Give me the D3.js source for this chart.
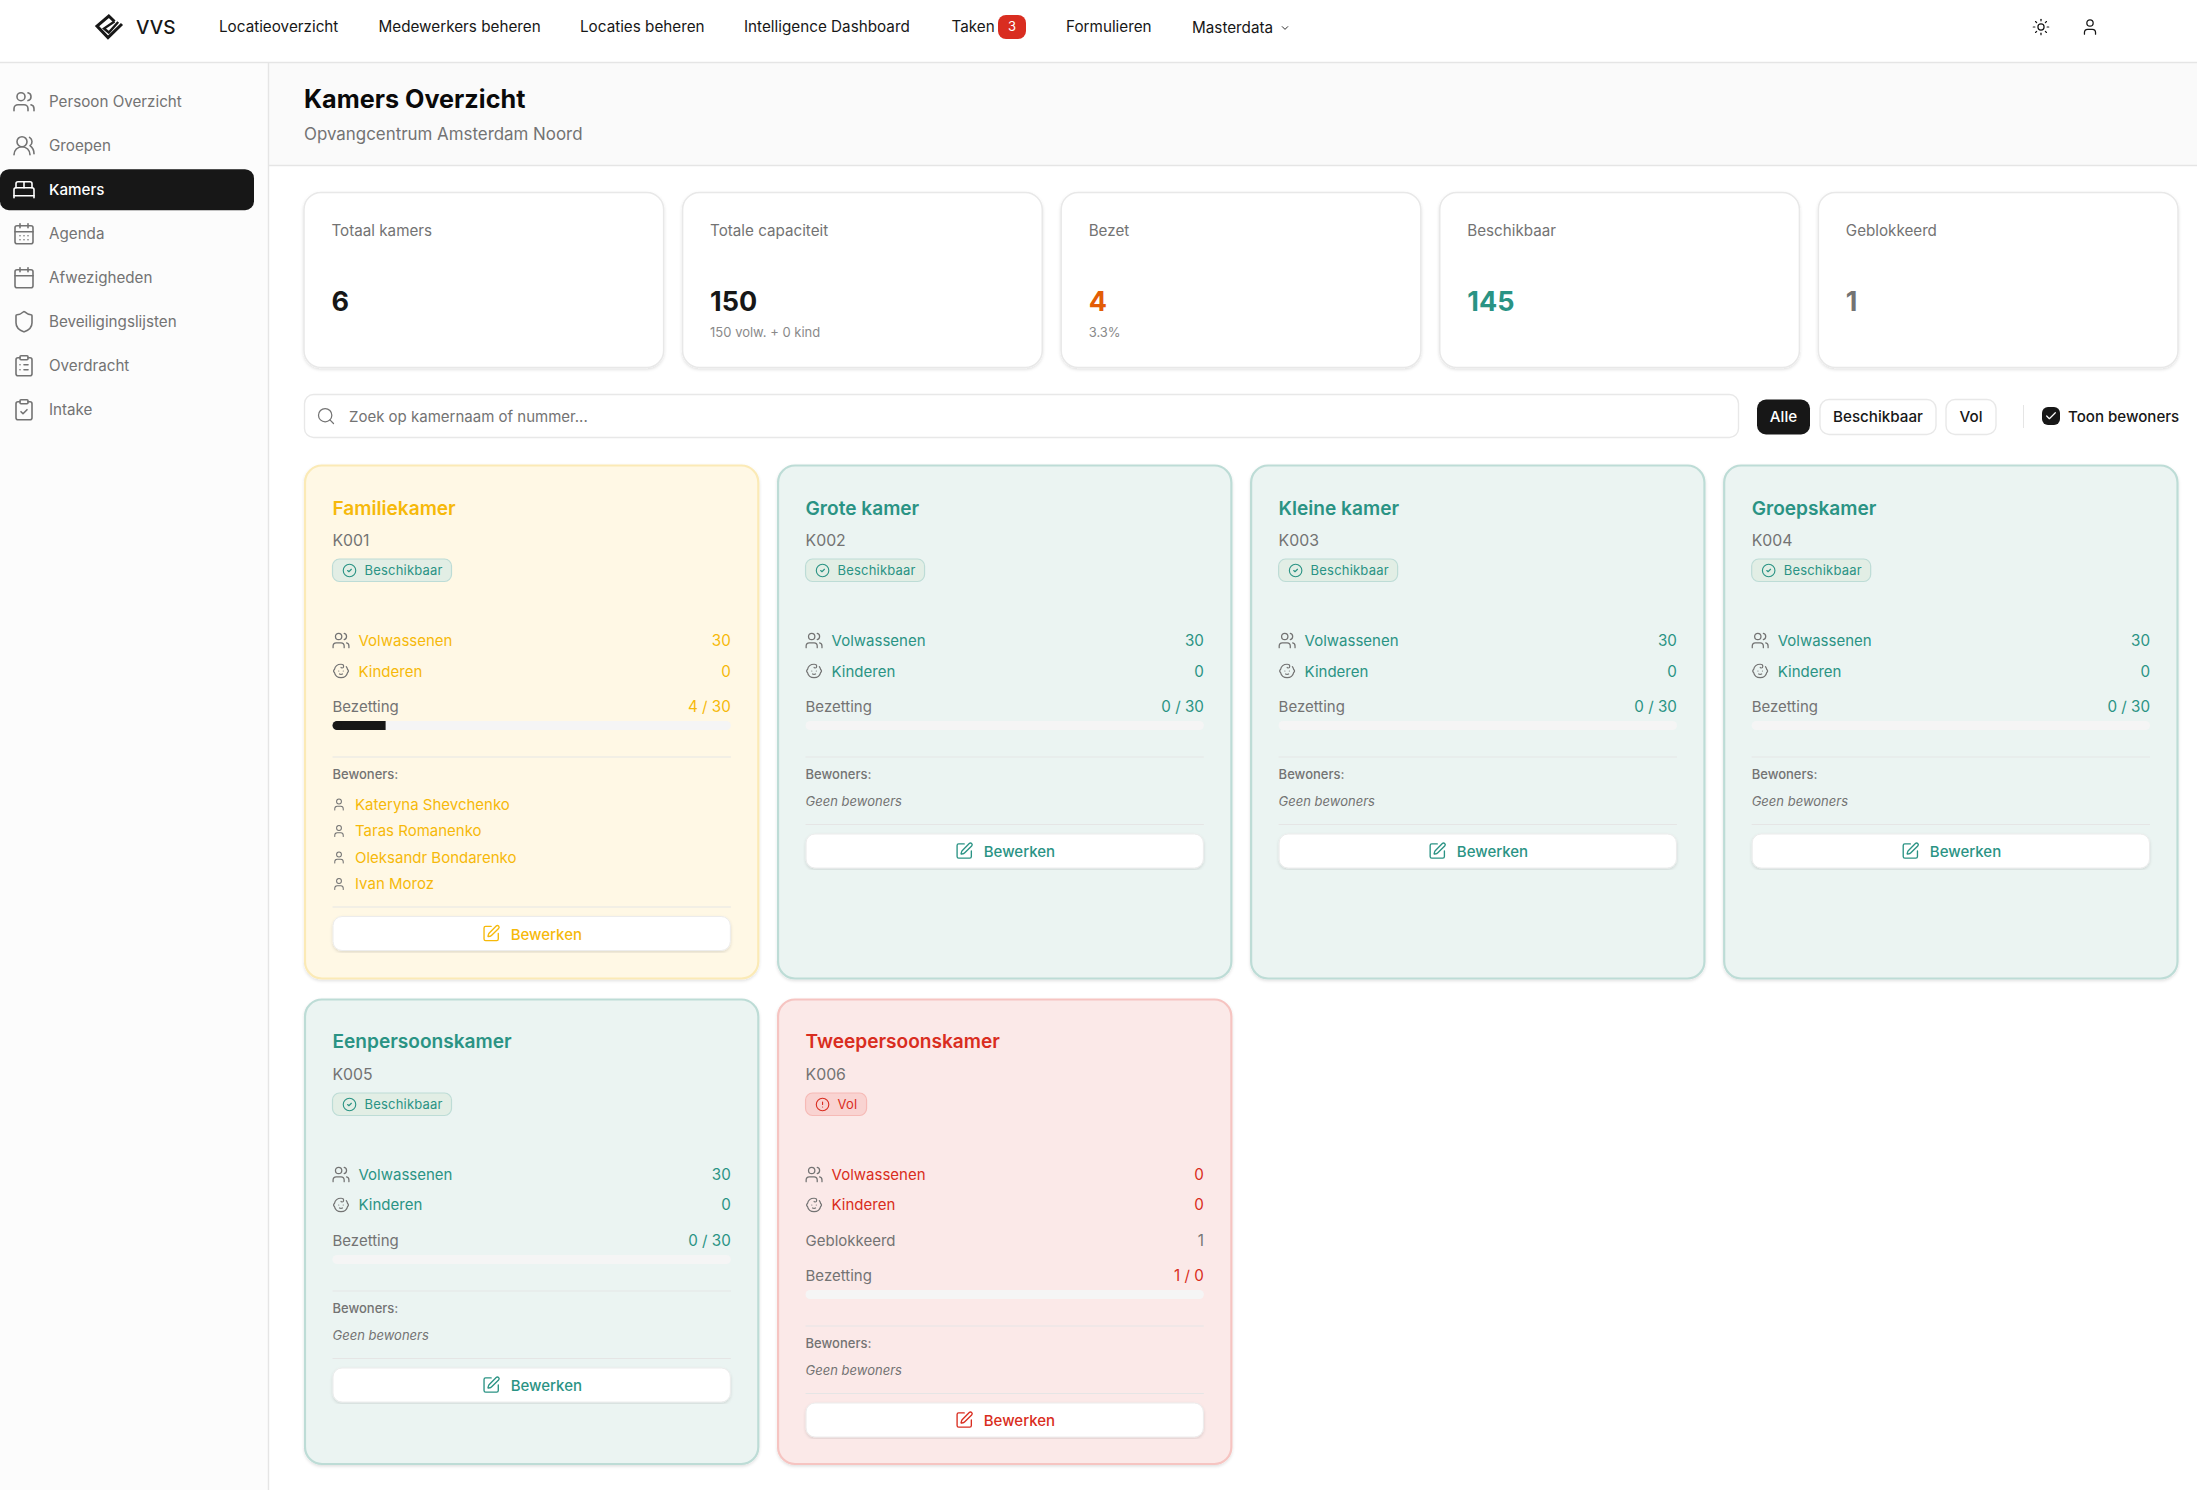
<!DOCTYPE html>
<html>
<head>
<meta charset="utf-8">
<title>Kamers Overzicht</title>
<script src="https://cdn.jsdelivr.net/npm/d3@7"></script>
<style>
html, body { margin: 0; padding: 0; background: #fff; overflow: hidden; }
text { font-family: Inter, "Noto Sans", sans-serif; }
</style>
</head>
<body>
<svg id="page" width="2197" height="1490"></svg>
<script>
// labels
var navLabels = ['Locatieoverzicht', 'Medewerkers beheren', 'Locaties beheren', 'Intelligence Dashboard', 'Taken', 'Formulieren', 'Masterdata'];
var taskCount = 3;
var sideLabels = ['Persoon Overzicht', 'Groepen', 'Kamers', 'Agenda', 'Afwezigheden', 'Beveiligingslijsten', 'Overdracht', 'Intake'];
var activeSide = 'Kamers';

// stat cards
var statLabels = ['Totaal kamers', 'Totale capaciteit', 'Bezet', 'Beschikbaar', 'Geblokkeerd'];
var statValues = [6, 150, 4, 145, 1];
var statNotes = ['', '150 volw. + 0 kind', '3.3%', '', ''];

// filters
var filterLabels = ['Alle', 'Beschikbaar', 'Vol'];

// rooms
var roomNames = ['Familiekamer', 'Grote kamer', 'Kleine kamer', 'Groepskamer', 'Eenpersoonskamer', 'Tweepersoonskamer'];
var roomCodes = ['K001', 'K002', 'K003', 'K004', 'K005', 'K006'];
var roomStatus = ['Beschikbaar', 'Beschikbaar', 'Beschikbaar', 'Beschikbaar', 'Beschikbaar', 'Vol'];
var roomAdults = [30, 30, 30, 30, 30, 0];
var roomChildren = [0, 0, 0, 0, 0, 0];
var roomBlocked = [0, 0, 0, 0, 0, 1];
var roomOccupied = [4, 0, 0, 0, 0, 1];
var roomCapacity = [30, 30, 30, 30, 30, 0];
var roomResidents = [['Kateryna Shevchenko', 'Taras Romanenko', 'Oleksandr Bondarenko', 'Ivan Moroz'], [], [], [], [], []];

var tones = {
  busy: { fill: '#fff8e5', border: '#fbeab6', ink: '#f6b90a' },
  free: { fill: '#ebf4f2', border: '#bddcd6', ink: '#2a9384' },
  full: { fill: '#fbe9e8', border: '#f6c4c1', ink: '#d92d20' }
};
var grey = '#737373', dark = '#171717', line = '#e5e5e5';

// icons, 24 unit grid
var icons = {
  users: ['M16 21v-2a4 4 0 0 0-4-4H6a4 4 0 0 0-4 4v2', 'M13 7a4 4 0 1 1-8 0a4 4 0 1 1 8 0', 'M22 21v-2a4 4 0 0 0-3-3.87', 'M16 3.13a4 4 0 0 1 0 7.75'],
  round: ['M18 21a8 8 0 0 0-16 0', 'M15 8a5 5 0 1 1-10 0a5 5 0 1 1 10 0', 'M22 20c0-3.37-2-6.5-4-8a5 5 0 0 0-.45-8.3'],
  bed: ['M2 20v-8a2 2 0 0 1 2-2h16a2 2 0 0 1 2 2v8', 'M4 10V6a2 2 0 0 1 2-2h12a2 2 0 0 1 2 2v4', 'M12 4v6', 'M2 18h20'],
  agenda: ['M8 2v4', 'M16 2v4', 'M5 4h14a2 2 0 0 1 2 2v14a2 2 0 0 1-2 2H5a2 2 0 0 1-2-2V6a2 2 0 0 1 2-2z', 'M3 10h18', 'M8 14h.01', 'M12 14h.01', 'M16 14h.01', 'M8 18h.01', 'M12 18h.01', 'M16 18h.01'],
  calendar: ['M8 2v4', 'M16 2v4', 'M5 4h14a2 2 0 0 1 2 2v14a2 2 0 0 1-2 2H5a2 2 0 0 1-2-2V6a2 2 0 0 1 2-2z', 'M3 10h18'],
  shield: ['M20 13c0 5-3.5 7.5-7.66 8.95a1 1 0 0 1-.67-.01C7.5 20.5 4 18 4 13V6a1 1 0 0 1 1-1c2 0 4.5-1.2 6.24-2.72a1.17 1.17 0 0 1 1.52 0C14.51 3.81 17 5 19 5a1 1 0 0 1 1 1z'],
  list: ['M9 2h6a1 1 0 0 1 1 1v2a1 1 0 0 1-1 1H9a1 1 0 0 1-1-1V3a1 1 0 0 1 1-1z', 'M16 4h2a2 2 0 0 1 2 2v14a2 2 0 0 1-2 2H6a2 2 0 0 1-2-2V6a2 2 0 0 1 2-2h2', 'M12 11h4', 'M12 16h4', 'M8 11h.01', 'M8 16h.01'],
  check: ['M9 2h6a1 1 0 0 1 1 1v2a1 1 0 0 1-1 1H9a1 1 0 0 1-1-1V3a1 1 0 0 1 1-1z', 'M16 4h2a2 2 0 0 1 2 2v14a2 2 0 0 1-2 2H6a2 2 0 0 1-2-2V6a2 2 0 0 1 2-2h2', 'm9 14 2 2 4-4'],
  baby: ['M9 12h.01', 'M15 12h.01', 'M10 16c.5.3 1.2.5 2 .5s1.5-.2 2-.5', 'M19 6.3a9 9 0 0 1 1.8 3.9 2 2 0 0 1 0 3.6 9 9 0 0 1-17.6 0 2 2 0 0 1 0-3.6A9 9 0 0 1 12 3c2 0 3.5 1.1 3.5 2.5s-.9 2.5-2 2.5c-.8 0-1.5-.4-1.5-1'],
  user: ['M19 21v-2a4 4 0 0 0-4-4H9a4 4 0 0 0-4 4v2', 'M16 7a4 4 0 1 1-8 0a4 4 0 1 1 8 0'],
  sun: ['M16 12a4 4 0 1 1-8 0a4 4 0 1 1 8 0', 'M12 2v2', 'M12 20v2', 'm4.93 4.93 1.41 1.41', 'm17.66 17.66 1.41 1.41', 'M2 12h2', 'M20 12h2', 'm6.34 17.66-1.41 1.41', 'm19.07 4.93-1.41 1.41'],
  pen: ['M12 3H5a2 2 0 0 0-2 2v14a2 2 0 0 0 2 2h14a2 2 0 0 0 2-2v-7', 'M18.375 2.625a1 1 0 0 1 3 3l-9.013 9.014a2 2 0 0 1-.853.505l-2.873.84a.5.5 0 0 1-.62-.62l.84-2.873a2 2 0 0 1 .506-.852z'],
  search: ['M19 11a8 8 0 1 1-16 0a8 8 0 1 1 16 0', 'm21 21-4.3-4.3'],
  ok: ['M22 12a10 10 0 1 1-20 0a10 10 0 1 1 20 0', 'm9 12 2 2 4-4'],
  alert: ['M22 12a10 10 0 1 1-20 0a10 10 0 1 1 20 0', 'M12 8v4', 'M12 16h.01'],
  chevron: ['m6 9 6 6 6-6'],
  tick: ['M20 6 9 17l-5-5']
};
var sideIcons = ['users', 'round', 'bed', 'agenda', 'calendar', 'shield', 'list', 'check'];

var svg = d3.select('#page');

function label(g, x, y, str, size, color, weight, anchor, style) {
  return g.append('text').attr('x', x).attr('y', y).attr('dy', '.36em')
    .attr('font-size', size).attr('fill', color).attr('font-weight', weight || 400)
    .attr('text-anchor', anchor || 'start').attr('font-style', style || 'normal').text(str);
}
function icon(g, name, cx, cy, size, color, sw) {
  var k = size / 24;
  var ig = g.append('g').attr('transform', 'translate(' + (cx - size / 2) + ',' + (cy - size / 2) + ') scale(' + k + ')');
  ig.selectAll('path').data(icons[name]).join('path').attr('d', function (d) { return d; })
    .attr('fill', 'none').attr('stroke', color).attr('stroke-width', sw || 2)
    .attr('stroke-linecap', 'round').attr('stroke-linejoin', 'round');
}
function box(g, x, y, w, h, r, fill, stroke, sw) {
  return g.append('rect').attr('x', x).attr('y', y).attr('width', w).attr('height', h).attr('rx', r)
    .attr('fill', fill).attr('stroke', stroke || 'none').attr('stroke-width', sw || 0);
}

var defs = svg.append('defs');
defs.append('filter').attr('id', 'lift').attr('x', '-5%').attr('y', '-5%').attr('width', '110%').attr('height', '110%')
  .append('feDropShadow').attr('dx', 0).attr('dy', 1.5).attr('stdDeviation', 1.5).attr('flood-color', '#000').attr('flood-opacity', 0.12);

// backgrounds
box(svg, 0, 0, 2197, 1490, 0, '#fff');
box(svg, 0, 62, 268, 1428, 0, '#fcfcfc');
box(svg, 268, 62, 1929, 103, 0, '#fafafa');
svg.append('line').attr('x1', 0).attr('x2', 2197).attr('y1', 62.5).attr('y2', 62.5).attr('stroke', line).attr('stroke-width', 1.4);
svg.append('line').attr('x1', 268).attr('x2', 2197).attr('y1', 165.5).attr('y2', 165.5).attr('stroke', line).attr('stroke-width', 1.4);
svg.append('line').attr('x1', 268.5).attr('x2', 268.5).attr('y1', 62).attr('y2', 1490).attr('stroke', line).attr('stroke-width', 1.4);

// top bar
var topBar = svg.append('g');
topBar.append('path').attr('d', 'M114.5 21.5 L108.8 16 L97 26 L108 37.5 L122 24').attr('fill', 'none').attr('stroke', dark).attr('stroke-width', 3);
topBar.append('path').attr('d', 'M114.5 21.5 L104 28.5 L108.8 32.5 L118.2 22').attr('fill', 'none').attr('stroke', dark).attr('stroke-width', 2.4);
label(topBar, 136, 27, 'VVS', 19, dark, 500);
var navX = [219, 378.5, 580, 744, 951.5, 1066, 1192];
navLabels.forEach(function (d, i) {
  label(topBar, navX[i], i === 6 ? 28 : 27, d, 15.25, dark, 400);
});
box(topBar, 998, 15, 28, 24, 8, '#d92d20');
label(topBar, 1012, 26.5, taskCount, 13, '#fff', 400, 'middle');
icon(topBar, 'chevron', 1285, 28, 11, dark, 2);
icon(topBar, 'sun', 2041, 27, 18.5, dark, 1.6);
icon(topBar, 'user', 2090, 27, 19, dark, 1.6);

// side menu
var sideY = d3.scalePoint().domain(sideLabels).range([101.7, 409.7]);
var side = svg.append('g');
box(side, 0, sideY(activeSide) - 20.5, 254, 41, 9, dark);
sideLabels.forEach(function (d, i) {
  var c = d === activeSide ? '#fff' : grey;
  icon(side, sideIcons[i], 24, sideY(d), 24, c, 1.6);
  label(side, 49, sideY(d), d, 15.2, c, d === activeSide ? 500 : 400);
});

// page title
label(svg, 304, 99, 'Kamers Overzicht', 25.2, '#0a0a0a', 700);
label(svg, 304, 134, 'Opvangcentrum Amsterdam Noord', 16.9, grey, 400);

// stat cards
var statX = d3.scaleBand().domain(d3.range(statLabels.length)).range([304, 2178]).paddingInner(0.05);
var statColors = [dark, dark, '#e35d06', '#2a9384', grey];
var stats = svg.append('g');
statLabels.forEach(function (d, i) {
  var x = statX(i), g = stats.append('g');
  box(g, x, 192.5, statX.bandwidth(), 175, 17, '#fff', '#e8e8e8', 1.5).attr('filter', 'url(#lift)');
  label(g, x + 27.5, 231, d, 15.2, grey, 400);
  label(g, x + 27.5, 301, statValues[i], 27, statColors[i], 700);
  if (statNotes[i]) label(g, x + 27.5, 332, statNotes[i], 13, '#8a8a8a', 400);
});

// search and filters
box(svg, 304.5, 394.5, 1434, 43, 9, '#fff', '#e8e8e8', 1.4);
icon(svg, 'search', 326, 416, 20, grey, 1.5);
label(svg, 349, 416.5, 'Zoek op kamernaam of nummer...', 15, grey, 400);
var filterX = [1757, 1820, 1946], filterW = [53, 116, 50];
filterLabels.forEach(function (d, i) {
  var on = i === 0;
  box(svg, filterX[i], 399.5, filterW[i], 35, 9, on ? dark : '#fff', on ? 'none' : '#e8e8e8', on ? 0 : 1.4);
  label(svg, filterX[i] + filterW[i] / 2, 416.5, d, 15.2, on ? '#fff' : dark, 450, 'middle');
});
svg.append('line').attr('x1', 2023.5).attr('x2', 2023.5).attr('y1', 405).attr('y2', 428).attr('stroke', line);
box(svg, 2042, 407, 18, 18, 6, dark);
icon(svg, 'tick', 2051, 416, 13, '#fff', 2.2);
label(svg, 2068, 416.5, 'Toon bewoners', 15.1, dark, 450);

// room cards
var roomX = d3.scaleBand().domain([0, 1, 2, 3]).range([304, 2178.5]).paddingInner(0.0375);
var rowTop = [464.5, 998.5], rowH = [515, 466.5];

function toneOf(i) {
  if (roomStatus[i] === 'Vol') return tones.full;
  return roomOccupied[i] > 0 ? tones.busy : tones.free;
}

roomNames.forEach(function (name, i) {
  var row = Math.floor(i / 4), x = roomX(i % 4), w = roomX.bandwidth(), t = toneOf(i);
  var g = svg.append('g').attr('transform', 'translate(' + x + ',' + rowTop[row] + ')');
  var inL = 28.5, inR = w - 28.5;
  box(g, 1, 1, w - 2, rowH[row] - 2, 17, t.fill, t.border, 2.2).attr('filter', 'url(#lift)');
  label(g, inL, 43.5 - row * 0.5, name, 19.1, t.ink, 600);
  label(g, inL, 75.5, roomCodes[i], 15.8, grey, 400);

  // status badge
  var isFull = roomStatus[i] === 'Vol', badgeInk = isFull ? tones.full.ink : tones.free.ink;
  var badgeW = isFull ? 61 : 119;
  box(g, inL, 94.5, badgeW, 22.5, 7, isFull ? '#f9d3d1' : '#e2eee5', isFull ? '#f6bab6' : '#bddcd6', 1.2);
  icon(g, isFull ? 'alert' : 'ok', inL + 17, 106, 15, badgeInk, 1.8);
  label(g, inL + 32, 106, roomStatus[i], 13, badgeInk, 400).attr('letter-spacing', 0.2);

  // counts
  icon(g, 'users', 37, 176, 19, grey, 1.6);
  label(g, 54.5, 176, 'Volwassenen', 15, t.ink, 400);
  label(g, inR, 176, roomAdults[i], 15.2, t.ink, 400, 'end');
  icon(g, 'baby', 37, 206.5, 18, grey, 1.6);
  label(g, 54.5, 207 - row * 0.5, 'Kinderen', 15, t.ink, 400);
  label(g, inR, 207 - row * 0.5, roomChildren[i], 15.2, t.ink, 400, 'end');

  var y = 242;
  if (roomBlocked[i] > 0) {
    label(g, inL, y, 'Geblokkeerd', 15, grey, 400);
    label(g, inR, y, roomBlocked[i], 15.2, grey, 400, 'end');
    y += 35;
  }
  label(g, inL, y, 'Bezetting', 15, grey, 400);
  label(g, inR, y, roomOccupied[i] + ' / ' + roomCapacity[i], 15.2, t.ink, 400, 'end');

  // bar
  var barY = y + 14.5, barScale = d3.scaleLinear().domain([0, roomCapacity[i] || 1]).range([inL, inR]);
  box(g, inL, barY, inR - inL, 9, 4.5, '#f5f5f5');
  if (roomCapacity[i] > 0 && roomOccupied[i] > 0) {
    box(g, inL + 4, barY, barScale(roomOccupied[i]) - inL - 4, 9, 0, dark);
    box(g, inL, barY, 9, 9, 4.5, dark);
  }

  var dy = barY + 36;
  g.append('line').attr('x1', inL).attr('x2', inR).attr('y1', dy).attr('y2', dy).attr('stroke', line).attr('stroke-width', 1.2);
  label(g, inL, dy + 17.5, 'Bewoners:', 13, grey, 500);

  var endY;
  if (roomResidents[i].length) {
    roomResidents[i].forEach(function (n, k) {
      var ny = dy + 47.5 + k * 26.5;
      icon(g, 'user', 35, ny, 14.5, grey, 1.7);
      label(g, 51, ny, n, 15, t.ink, 400);
    });
    endY = dy + 47.5 + (roomResidents[i].length - 1) * 26.5 + 23;
  } else {
    label(g, inL, dy + 44, 'Geen bewoners', 13, grey, 400, 'start', 'italic');
    endY = dy + 67.5;
  }
  g.append('line').attr('x1', inL).attr('x2', inR).attr('y1', endY).attr('y2', endY).attr('stroke', line).attr('stroke-width', 1.2);

  // edit button
  box(g, inL + 0.5, endY + 9.5, inR - inL - 1, 34, 9, '#fff', '#ececec', 1).attr('filter', 'url(#lift)');
  var mid = (inL + inR) / 2;
  icon(g, 'pen', mid - 40.5, endY + 26.5, 19, t.ink, 1.7);
  label(g, mid - 21, endY + 27.5, 'Bewerken', 15, t.ink, 450);
});
</script>
</body>
</html>
